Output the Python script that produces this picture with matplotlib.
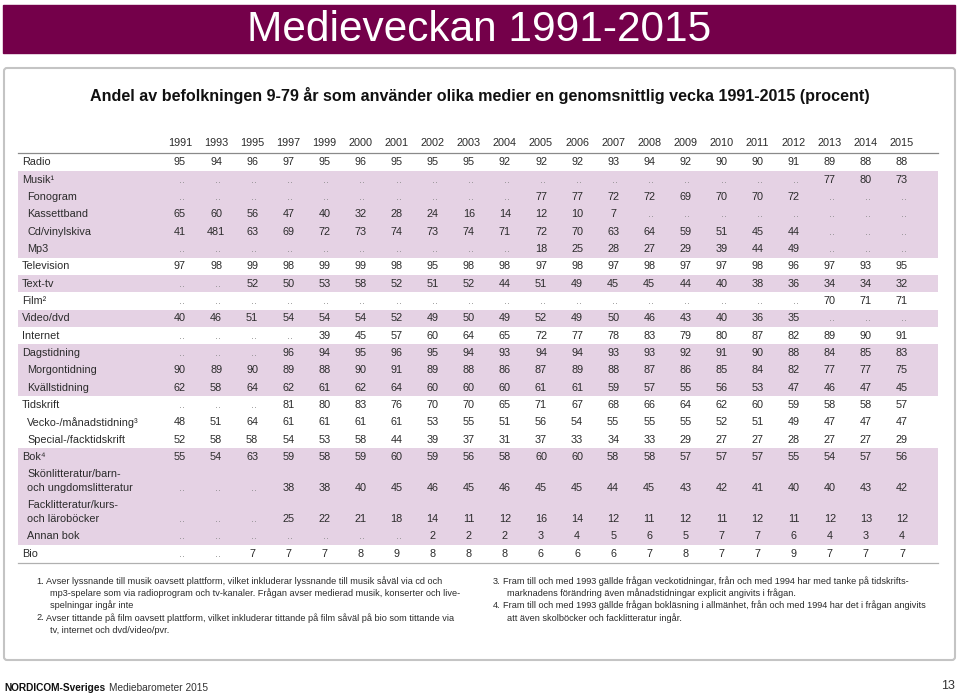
import matplotlib
matplotlib.use("Agg")
import matplotlib.pyplot as plt
from matplotlib.patches import Rectangle, FancyBboxPatch

# --- data -----------------------------------------------------------------
years = ['1991', '1993', '1995', '1997', '1999', '2000', '2001', '2002', '2003',
         '2004', '2005', '2006', '2007', '2008', '2009', '2010', '2011', '2012',
         '2013', '2014', '2015']

D = '..'
radio = [95, 94, 96, 97, 95, 96, 95, 95, 95, 92, 92, 92, 93, 94, 92, 90, 90, 91, 89, 88, 88]
musik = [D] * 18 + [77, 80, 73]
fonogram = [D] * 10 + [77, 77, 72, 72, 69, 70, 70, 72] + [D] * 3
kassettband = [65, 60, 56, 47, 40, 32, 28, 24, 16, 14, 12, 10, 7] + [D] * 8
cd_vinyl = [41, 481, 63, 69, 72, 73, 74, 73, 74, 71, 72, 70, 63, 64, 59, 51, 45, 44] + [D] * 3
mp3 = [D] * 10 + [18, 25, 28, 27, 29, 39, 44, 49] + [D] * 3
television = [97, 98, 99, 98, 99, 99, 98, 95, 98, 98, 97, 98, 97, 98, 97, 97, 98, 96, 97, 93, 95]
text_tv = [D, D, 52, 50, 53, 58, 52, 51, 52, 44, 51, 49, 45, 45, 44, 40, 38, 36, 34, 34, 32]
film = [D] * 18 + [70, 71, 71]
video_dvd = [40, 46, 51, 54, 54, 54, 52, 49, 50, 49, 52, 49, 50, 46, 43, 40, 36, 35, D, D, D]
internet = [D, D, D, D, 39, 45, 57, 60, 64, 65, 72, 77, 78, 83, 79, 80, 87, 82, 89, 90, 91]
dagstidning = [D, D, D, 96, 94, 95, 96, 95, 94, 93, 94, 94, 93, 93, 92, 91, 90, 88, 84, 85, 83]
morgontidning = [90, 89, 90, 89, 88, 90, 91, 89, 88, 86, 87, 89, 88, 87, 86, 85, 84, 82, 77, 77, 75]
kvallstidning = [62, 58, 64, 62, 61, 62, 64, 60, 60, 60, 61, 61, 59, 57, 55, 56, 53, 47, 46, 47, 45]
tidskrift = [D, D, D, 81, 80, 83, 76, 70, 70, 65, 71, 67, 68, 66, 64, 62, 60, 59, 58, 58, 57]
vecko = [48, 51, 64, 61, 61, 61, 61, 53, 55, 51, 56, 54, 55, 55, 55, 52, 51, 49, 47, 47, 47]
special = [52, 58, 58, 54, 53, 58, 44, 39, 37, 31, 37, 33, 34, 33, 29, 27, 27, 28, 27, 27, 29]
bok = [55, 54, 63, 59, 58, 59, 60, 59, 56, 58, 60, 60, 58, 58, 57, 57, 57, 55, 54, 57, 56]
skonlitt = [D, D, D, 38, 38, 40, 45, 46, 45, 46, 45, 45, 44, 45, 43, 42, 41, 40, 40, 43, 42]
facklitt = [D, D, D, 25, 22, 21, 18, 14, 11, 12, 16, 14, 12, 11, 12, 11, 12, 11, 12, 13, 12]
annan_bok = [D] * 7 + [2, 2, 2, 3, 4, 5, 6, 5, 7, 7, 6, 4, 3, 4]
bio = [D, D, 7, 7, 7, 8, 9, 8, 8, 8, 6, 6, 6, 7, 8, 7, 7, 9, 7, 7, 7]

# (label, values, shaded, indented)
rows = [
    ('Radio', radio, False, False),
    ('Musik\u00b9', musik, True, False),
    ('Fonogram', fonogram, True, True),
    ('Kassettband', kassettband, True, True),
    ('Cd/vinylskiva', cd_vinyl, True, True),
    ('Mp3', mp3, True, True),
    ('Television', television, False, False),
    ('Text-tv', text_tv, True, False),
    ('Film\u00b2', film, False, False),
    ('Video/dvd', video_dvd, True, False),
    ('Internet', internet, False, False),
    ('Dagstidning', dagstidning, True, False),
    ('Morgontidning', morgontidning, True, True),
    ('Kvällstidning', kvallstidning, True, True),
    ('Tidskrift', tidskrift, False, False),
    ('Vecko-/månadstidning\u00b3', vecko, False, True),
    ('Special-/facktidskrift', special, False, True),
    ('Bok\u2074', bok, True, False),
    ('Skönlitteratur/barn-\noch ungdomslitteratur', skonlitt, True, True),
    ('Facklitteratur/kurs-\noch läroböcker', facklitt, True, True),
    ('Annan bok', annan_bok, True, True),
    ('Bio', bio, False, False),
]

title = 'Medieveckan 1991-2015'
subtitle = 'Andel av befolkningen 9-79 år som använder olika medier en genomsnittlig vecka 1991-2015 (procent)'
notes_left = [
    ('1.', ['Avser lyssnande till musik oavsett plattform, vilket inkluderar lyssnande till musik såväl via cd och',
            'mp3-spelare som via radioprogram och tv-kanaler. Frågan avser medierad musik, konserter och live-',
            'spelningar ingår inte']),
    ('2.', ['Avser tittande på film oavsett plattform, vilket inkluderar tittande på film såväl på bio som tittande via',
            'tv, internet och dvd/video/pvr.']),
]
notes_right = [
    ('3.', ['Fram till och med 1993 gällde frågan veckotidningar, från och med 1994 har med tanke på tidskrifts-',
            'marknadens förändring även månadstidningar explicit angivits i frågan.']),
    ('4.', ['Fram till och med 1993 gällde frågan bokläsning i allmänhet, från och med 1994 har det i frågan angivits',
            'att även skolböcker och facklitteratur ingår.']),
]

# --- style ----------------------------------------------------------------
plt.rcParams['font.family'] = ['Liberation Sans', 'DejaVu Sans']

purple = '#74004a'
shade = '#e5d2e4'
txt = '#2b2b2b'
W, H = 959, 695

fig = plt.figure(figsize=(W / 100, H / 100), dpi=100)
ax = fig.add_axes([0, 0, 1, 1])
ax.set_xlim(0, W)
ax.set_ylim(H, 0)
ax.axis('off')

# title bar
ax.add_patch(Rectangle((3, 5), 952, 48, color=purple, zorder=1))
ax.text(W / 2, 30, title, color='white', fontsize=30.5,
        ha='center', va='center', zorder=2)

# panel box
ax.add_patch(FancyBboxPatch((4, 68), 951, 592, boxstyle='round,pad=0,rounding_size=3',
                            fill=False, ec='#c4c4c4', lw=1.5, zorder=1))
ax.text(W / 2, 96, subtitle, color='#111111', fontsize=11.6,
        weight='bold', ha='center', va='center')

# table geometry
x_left, x_right = 18, 938
col0, col_step = 180, 36.1
col_x = [col0 + i * col_step for i in range(len(years))]
h1, h2 = 17.35, 31.0
top = 153.5
fs = 7.8

for x, y in zip(col_x, years):
    ax.text(x, 143, y, fontsize=fs, color=txt, ha='center', va='center')
ax.plot([x_left, x_right], [152.5, 152.5], color='#8a8a8a', lw=0.9)

y0 = top
for label, vals, shaded, indent in rows:
    two = '\n' in label
    h = h2 if two else h1
    if shaded:
        ax.add_patch(Rectangle((x_left, y0), x_right - x_left, h, color=shade, lw=0, zorder=0))
    lx = 27 if indent else 22
    if two:
        l1, l2 = label.split('\n')
        ax.text(lx, y0 + 8.5, l1, fontsize=fs, color=txt, va='center')
        ax.text(lx, y0 + 22.5, l2, fontsize=fs, color=txt, va='center')
        yv = y0 + 22.5
    else:
        ax.text(lx, y0 + h / 2, label, fontsize=fs, color=txt, va='center')
        yv = y0 + h / 2
    for x, v in zip(col_x, vals):
        if v == D:
            ax.text(x + 2, yv, '..', fontsize=fs, color='#8a8a8a', ha='center', va='center')
        else:
            ax.text(x, yv, str(v), fontsize=fs, color=txt, ha='center', va='center')
    y0 += h

ax.plot([x_left, x_right], [y0, y0], color='#b0b0b0', lw=0.9)

# footnotes
nfs = 6.6
def draw_notes(notes, xn, xt, ys):
    y = ys
    for num, lines in notes:
        ax.text(xn, y, num, fontsize=nfs, color=txt, va='center')
        for i, line in enumerate(lines):
            ax.text(xt if i == 0 else xt + 4, y, line, fontsize=nfs, color=txt, va='center')
            y += 12.3
draw_notes(notes_left, 36, 46, 581)
draw_notes(notes_right, 493, 503, 581)

# footer
t1 = ax.text(4, 688, 'NORDICOM-Sveriges', fontsize=7.3, weight='bold', color='#111111', va='center')
fig.canvas.draw()
bb = t1.get_window_extent()
ax.text(bb.x1 + 4, 688, 'Mediebarometer 2015', fontsize=7.3, color='#333333', va='center')
ax.text(955, 686, '13', fontsize=9, color='#333333', ha='right', va='center')

fig.savefig('out.png', dpi=100)
